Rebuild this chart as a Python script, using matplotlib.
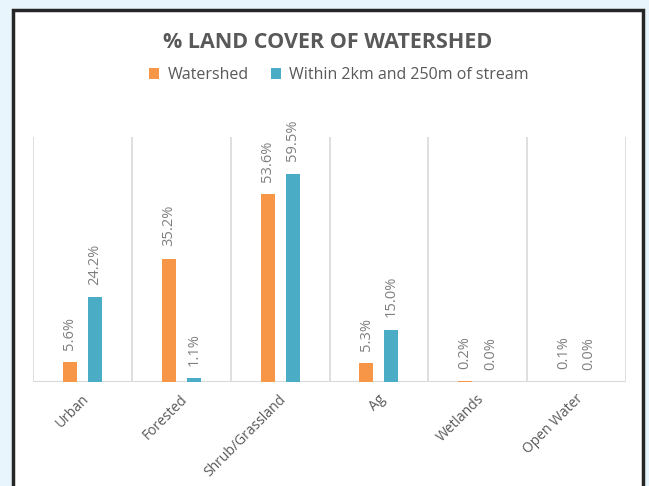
import matplotlib
matplotlib.use("Agg")
import matplotlib.pyplot as plt
import matplotlib.transforms as mtrans
from matplotlib.patches import Rectangle
import numpy as np

categories = ["Urban", "Forested", "Shrub/Grassland", "Ag", "Wetlands", "Open Water"]
watershed = [5.6, 35.2, 53.6, 5.3, 0.2, 0.1]
stream = [24.2, 1.1, 59.5, 15.0, 0.0, 0.0]
series_names = ["Watershed", "Within 2km and 250m of stream"]

plt.rcParams['font.family'] = ['Open Sans', 'DejaVu Sans']
W, H = 649, 486
fig = plt.figure(figsize=(W/100, H/100), dpi=100, facecolor='#E9F5FC')

panel = Rectangle((13/W, -0.05), 630/W, (H-10)/H + 0.05, transform=fig.transFigure,
                  facecolor='white', edgecolor='#262626', linewidth=2.5, zorder=-10)
fig.patches.append(panel)

ax = fig.add_axes([33/W, (H-382)/H, (626-33)/W, (382-137)/H])
ax.set_zorder(5)
ax.set_facecolor('none')
x = np.arange(len(categories))
off, bw = 0.127, 0.142
c1, c2 = '#F79646', '#4BACC6'
b1 = ax.bar(x - off, watershed, bw, color=c1, label=series_names[0], zorder=3)
b2 = ax.bar(x + off, stream, bw, color=c2, label=series_names[1], zorder=3)
ax.set_xlim(-0.5, len(categories) - 0.5)
ax.set_ylim(0, 70)
for b in list(x - 0.5) + [len(categories) - 0.5]:
    ax.axvline(b, color='#D9D9D9', lw=1.2, zorder=1)
ax.axhline(0, color='#D9D9D9', lw=1.5, zorder=2)
for s in ax.spines.values():
    s.set_visible(False)
ax.set_yticks([])
ax.set_xticks(x)
ax.tick_params(axis='x', length=0, labelbottom=False)
shift = mtrans.ScaledTranslation(4/100, -15/100, fig.dpi_scale_trans)
for xi, name in zip(x, categories):
    ax.text(xi, 0, name, transform=ax.get_xaxis_transform() + shift, rotation=45,
            ha='right', va='center', rotation_mode='anchor', fontsize=10, color='#595959')

for bars, vals in ((b1, watershed), (b2, stream)):
    for r, v in zip(bars, vals):
        ax.annotate(f"{v:.1f}%", (r.get_x() + r.get_width()/2, v), xytext=(0, 9),
                    textcoords='offset points', rotation=90, ha='center', va='bottom',
                    fontsize=10.5, color='#7F7F7F')

fig.text(328/W, 1 - 42/H, "% LAND COVER OF WATERSHED", ha='center', va='center',
         fontsize=15.5, fontweight='bold', color='#595959')
fig.legend(handles=[b1, b2], labels=series_names, loc='center', bbox_to_anchor=(339/W, 1 - 75/H),
           ncol=2, frameon=False, fontsize=11.5, handlelength=0.65, handleheight=0.65,
           columnspacing=1.4, handletextpad=0.5, labelcolor='#595959')

fig.savefig("out.png", dpi=100, facecolor=fig.get_facecolor())
